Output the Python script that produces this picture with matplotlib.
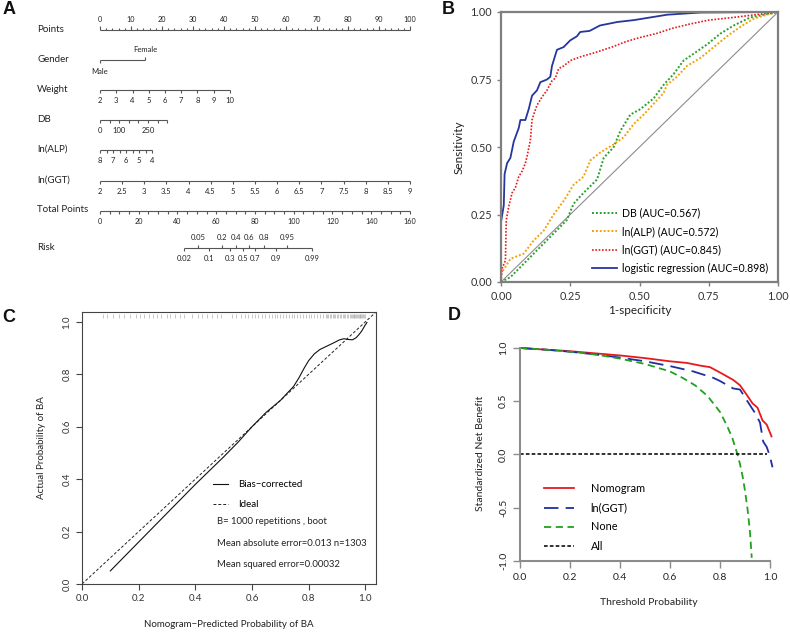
import numpy as np
import matplotlib
matplotlib.use('Agg')
import matplotlib.pyplot as plt

plt.rcParams['font.family'] = ['Lato', 'DejaVu Sans']

# ---------------- data ----------------
# Panel A nomogram scales (value -> points)
points_major = [0, 10, 20, 30, 40, 50, 60, 70, 80, 90, 100]
gender_levels = ['Male', 'Female']
gender_points = [0, 14.5]
weight_values = [2, 3, 4, 5, 6, 7, 8, 9, 10]
weight_points = [0, 5.2, 10.5, 15.7, 21.0, 26.2, 31.4, 36.7, 41.9]
db_values = [0, 50, 100, 150, 200, 250, 300, 350]
db_points = [0, 3.1, 6.2, 9.3, 12.4, 15.5, 18.6, 21.7]
db_labels = ['0', '', '100', '', '', '250', '', '']
alp_values = [8, 7.5, 7, 6.5, 6, 5.5, 5, 4.5, 4]
alp_points = [0, 2.1, 4.2, 6.3, 8.4, 10.5, 12.6, 14.7, 16.8]
alp_labels = ['8', '', '7', '', '6', '', '5', '', '4']
ggt_values = [2, 2.5, 3, 3.5, 4, 4.5, 5, 5.5, 6, 6.5, 7, 7.5, 8, 8.5, 9]
ggt_points = [0, 7.14, 14.29, 21.43, 28.57, 35.71, 42.86, 50.0, 57.14, 64.29, 71.43, 78.57, 85.71, 92.86, 100]
total_major = [0, 20, 40, 60, 80, 100, 120, 140, 160]
risk_top = [0.05, 0.2, 0.4, 0.6, 0.8, 0.95]
risk_bottom = [0.02, 0.1, 0.3, 0.5, 0.7, 0.9, 0.99]
risk_tp_at_half = 73.6      # total points where risk = 0.5
risk_tp_per_logit = 7.79    # total points per logit unit

# Panel B ROC curves
lr_fpr = [0, 0, 0.010, 0.013, 0.022, 0.034, 0.046, 0.064, 0.070, 0.088, 0.100, 0.112, 0.130, 0.142, 0.166,
          0.178, 0.184, 0.196, 0.202, 0.226, 0.250, 0.274, 0.286, 0.320, 0.357, 0.420, 0.480, 0.540, 0.600, 0.720, 1.0]
lr_tpr = [0, 0.222, 0.284, 0.40, 0.44, 0.46, 0.52, 0.57, 0.60, 0.60, 0.64, 0.69, 0.71, 0.74, 0.75,
          0.76, 0.80, 0.84, 0.86, 0.87, 0.895, 0.91, 0.926, 0.93, 0.95, 0.963, 0.97, 0.98, 0.99, 0.998, 1.0]
ggt_fpr = [0, 0.004, 0.016, 0.019, 0.028, 0.040, 0.052, 0.064, 0.076, 0.088, 0.094, 0.106, 0.112, 0.118, 0.130,
           0.148, 0.166, 0.184, 0.196, 0.208, 0.226, 0.250, 0.290, 0.340, 0.400, 0.450, 0.500, 0.560, 0.620,
           0.680, 0.750, 0.840, 0.920, 1.0]
ggt_tpr = [0, 0.05, 0.08, 0.23, 0.28, 0.33, 0.35, 0.39, 0.41, 0.44, 0.465, 0.525, 0.60, 0.62, 0.655,
           0.685, 0.71, 0.745, 0.755, 0.79, 0.80, 0.82, 0.835, 0.85, 0.87, 0.89, 0.905, 0.92, 0.94,
           0.955, 0.97, 0.98, 0.99, 1.0]
alp_fpr = [0, 0.0, 0.034, 0.082, 0.118, 0.154, 0.190, 0.226, 0.262, 0.298, 0.322, 0.359, 0.407, 0.443,
           0.479, 0.515, 0.551, 0.587, 0.599, 0.635, 0.671, 0.720, 0.768, 0.816, 0.864, 0.912, 0.960, 1.0]
alp_tpr = [0, 0.03, 0.086, 0.105, 0.154, 0.19, 0.25, 0.30, 0.36, 0.39, 0.45, 0.48, 0.51, 0.536,
           0.585, 0.62, 0.66, 0.70, 0.73, 0.76, 0.80, 0.83, 0.87, 0.91, 0.945, 0.975, 0.99, 1.0]
db_fpr = [0, 0.034, 0.094, 0.142, 0.190, 0.238, 0.262, 0.298, 0.347, 0.371, 0.407, 0.431, 0.467, 0.503,
          0.551, 0.587, 0.623, 0.659, 0.696, 0.744, 0.792, 0.840, 0.900, 1.0]
db_tpr = [0, 0.018, 0.08, 0.13, 0.18, 0.23, 0.29, 0.33, 0.38, 0.46, 0.50, 0.56, 0.62, 0.64,
          0.68, 0.73, 0.77, 0.82, 0.846, 0.88, 0.92, 0.95, 0.98, 1.0]
roc_labels = ['DB (AUC=0.567)', 'ln(ALP) (AUC=0.572)', 'ln(GGT) (AUC=0.845)', 'logistic regression (AUC=0.898)']

# Panel C calibration
cal_x = [0.10, 0.20, 0.30, 0.40, 0.50, 0.55, 0.60, 0.65, 0.70, 0.747, 0.765, 0.785, 0.80, 0.82, 0.84, 0.865,
         0.888, 0.91, 0.925, 0.94, 0.955, 0.968, 0.978, 0.988, 0.998, 1.006]
cal_y = [0.05, 0.16, 0.27, 0.38, 0.485, 0.54, 0.60, 0.655, 0.70, 0.754, 0.785, 0.825, 0.852, 0.878, 0.895,
         0.908, 0.92, 0.932, 0.936, 0.933, 0.932, 0.94, 0.952, 0.966, 0.985, 0.998]
rug_x = [0.074, 0.09, 0.11, 0.13, 0.15, 0.17, 0.19, 0.205, 0.22, 0.235, 0.25, 0.265, 0.28, 0.30, 0.31, 0.33,
         0.345, 0.36, 0.39, 0.41, 0.425, 0.44, 0.46, 0.475, 0.49, 0.53, 0.545, 0.56, 0.575, 0.585, 0.60, 0.61,
         0.62, 0.635, 0.645, 0.66, 0.67, 0.68, 0.69, 0.70, 0.71, 0.72, 0.73, 0.74, 0.75, 0.76, 0.77, 0.78,
         0.79, 0.80, 0.81, 0.82, 0.83, 0.84, 0.85, 0.86, 0.865, 0.87, 0.875, 0.88, 0.885, 0.89, 0.895, 0.90,
         0.905, 0.91, 0.915, 0.92, 0.925, 0.93, 0.935, 0.94, 0.945, 0.95, 0.953, 0.956, 0.959, 0.962, 0.965,
         0.968, 0.971, 0.974, 0.977, 0.98, 0.983, 0.986, 0.989, 0.992, 0.995, 0.998]
cal_texts = ['B= 1000 repetitions , boot', 'Mean absolute error=0.013 n=1303', 'Mean squared error=0.00032']

# Panel D decision curves
nomo_x = [0.0, 0.1, 0.2, 0.3, 0.4, 0.5, 0.6, 0.667, 0.72, 0.76, 0.80, 0.853, 0.88, 0.907, 0.93, 0.95,
          0.96, 0.97, 0.987, 1.006]
nomo_y = [1.0, 0.985, 0.97, 0.95, 0.93, 0.905, 0.875, 0.86, 0.835, 0.82, 0.77, 0.70, 0.65, 0.56, 0.48, 0.44,
          0.38, 0.32, 0.28, 0.17]
lggt_x = [0.0, 0.1, 0.2, 0.3, 0.4, 0.5, 0.6, 0.693, 0.773, 0.8, 0.853, 0.88, 0.907, 0.94, 0.96, 0.973,
          0.987, 1.0, 1.01]
lggt_y = [1.0, 0.985, 0.965, 0.94, 0.91, 0.875, 0.83, 0.78, 0.72, 0.69, 0.62, 0.61, 0.51, 0.39, 0.30, 0.12,
          0.07, -0.02, -0.12]
none_x = [0.0, 0.1, 0.2, 0.3, 0.4, 0.5, 0.6, 0.65, 0.7, 0.75, 0.8, 0.83, 0.85, 0.87, 0.88, 0.89, 0.90,
          0.91, 0.92, 0.927]
none_y = [1.0, 0.985, 0.965, 0.94, 0.90, 0.85, 0.78, 0.72, 0.65, 0.55, 0.40, 0.26, 0.15, 0.0, -0.09, -0.20,
          -0.34, -0.51, -0.73, -0.97]
all_x = [0.0, 0.987]
all_y = [0.0, 0.0]
dca_labels = ['Nomogram', 'ln(GGT)', 'None', 'All']

# ---------------- figure ----------------
W, H = 790, 634
fig = plt.figure(figsize=(W / 100, H / 100), dpi=100)


def add_ax(l, t, r, b):
    return fig.add_axes([l / W, 1 - b / H, (r - l) / W, (b - t) / H])


# ---------- Panel A ----------
PPX = 3.1  # pixels per point
axA = add_ax(0, 0, 420, 300)
axA.set_xlim(-100 / PPX, 320 / PPX)
axA.set_ylim(300, 0)
axA.axis('off')
LC = '#555555'
TC = '#222222'
LAB_X = (37 - 100) / PPX


def scale(y, pos, labels, sides, fs=5.5, tick=3.0, lab_off=10.5, ticklens=None):
    axA.plot([min(pos), max(pos)], [y, y], color=LC, lw=0.8, solid_capstyle='butt')
    for i, (p, lab, s) in enumerate(zip(pos, labels, sides)):
        tl = tick if ticklens is None else ticklens[i]
        axA.plot([p, p], [y, y + s * tl], color=LC, lw=0.8, solid_capstyle='butt')
        if lab:
            axA.text(p, y + s * lab_off, lab, ha='center', va='center', fontsize=fs, color=TC)


def row_label(y, txt):
    axA.text(LAB_X, y - 1, txt, ha='left', va='center', fontsize=7, color=TC)


# Points
pts_minor = list(range(0, 101, 2))
pts_labels = [str(p) if p in points_major else '' for p in pts_minor]
pts_lens = [3.5 if p in points_major else 2.0 for p in pts_minor]
scale(30, pts_minor, pts_labels, [-1] * len(pts_minor), fs=5.2, ticklens=pts_lens)
row_label(30, 'Points')
# Gender
scale(60, gender_points, ['', ''], [1, -1])
axA.text(gender_points[0], 72, gender_levels[0], ha='center', va='center', fontsize=5.5, color=TC)
axA.text(gender_points[1], 50, gender_levels[1], ha='center', va='center', fontsize=5.5, color=TC)
row_label(60, 'Gender')
# Weight
scale(90, weight_points, [str(v) for v in weight_values], [1] * len(weight_values))
row_label(90, 'Weight')
# DB
scale(120, db_points, db_labels, [1] * len(db_points))
row_label(120, 'DB')
# ln(ALP)
scale(150, alp_points, alp_labels, [1] * len(alp_points))
row_label(150, 'ln(ALP)')
# ln(GGT)
scale(181, ggt_points, [('%g' % v) for v in ggt_values], [1] * len(ggt_values))
row_label(181, 'ln(GGT)')
# Total Points
tp_ticks = list(range(0, 161, 5))
tp_pos = [t * 100 / 160 for t in tp_ticks]
tp_labels = [str(t) if t in total_major else '' for t in tp_ticks]
scale(211, tp_pos, tp_labels, [1] * len(tp_ticks), fs=5.2)
row_label(211, 'Total Points')
# Risk


def risk_pos(p):
    tp = risk_tp_at_half + risk_tp_per_logit * np.log(p / (1 - p))
    return tp * 100 / 160


rp_top = [risk_pos(p) for p in risk_top]
rp_bot = [risk_pos(p) for p in risk_bottom]
scale(248, rp_top + rp_bot, [('%g' % p) for p in risk_top] + [('%g' % p) for p in risk_bottom],
      [-1] * len(rp_top) + [1] * len(rp_bot))
row_label(248, 'Risk')

# ---------- Panel B ----------
axB = add_ax(501, 12, 778, 282)
GC = '#7f7f7f'
axB.plot([0, 1], [0, 1], color='#8c8c8c', lw=0.8)
axB.plot(db_fpr, db_tpr, color='#2ca02c', lw=1.4, ls=(0, (1, 1)), label=roc_labels[0])
axB.plot(alp_fpr, alp_tpr, color='#f0a30a', lw=1.4, ls=(0, (1, 1)), label=roc_labels[1])
axB.plot(ggt_fpr, ggt_tpr, color='#e41a1c', lw=1.2, ls=(0, (1, 1)), label=roc_labels[2])
axB.plot(lr_fpr, lr_tpr, color='#26369c', lw=1.3, label=roc_labels[3])
axB.set_xlim(0, 1)
axB.set_ylim(0, 1)
ticks = [0, 0.25, 0.5, 0.75, 1.0]
axB.set_xticks(ticks)
axB.set_yticks(ticks)
axB.set_xticklabels(['%.2f' % t for t in ticks])
axB.set_yticklabels(['%.2f' % t for t in ticks])
for s in axB.spines.values():
    s.set_color(GC)
    s.set_linewidth(1.6)
axB.tick_params(colors=GC, length=3, width=1, labelsize=7.8, labelcolor='#333333')
axB.set_xlabel('1-specificity', fontsize=8.5, color='#222222', labelpad=2)
axB.set_ylabel('Sensitivity', fontsize=8.5, color='#222222', labelpad=4)
axB.legend(loc='lower right', bbox_to_anchor=(0.995, 0.0), frameon=False, fontsize=7.6,
           handlelength=2.4, handletextpad=0.5, labelspacing=0.72, borderaxespad=0.35)

# ---------- Panel C ----------
axC = add_ax(82, 312, 376, 584)
axC.set_xlim(0, 1.038)
axC.set_ylim(0, 1.038)
axC.vlines(rug_x, 1.016, 1.03, color='#a8a8a8', lw=0.45)
axC.plot([0, 1.05], [0, 1.05], color='#222222', lw=0.7, ls=(0, (3, 2)), label='Ideal')
axC.plot(cal_x, cal_y, color='#111111', lw=0.8, label='Bias\u2212corrected')
ct = [0, 0.2, 0.4, 0.6, 0.8, 1.0]
axC.set_xticks(ct)
axC.set_yticks(ct)
axC.set_xticklabels(['%.1f' % t for t in ct])
axC.set_yticklabels(['%.1f' % t for t in ct], rotation=90, va='center')
for s in axC.spines.values():
    s.set_color('#444444')
    s.set_linewidth(0.8)
axC.tick_params(colors='#444444', length=4, width=0.8, labelsize=7, labelcolor='#333333')
axC.set_xlabel('Nomogram\u2212Predicted Probability of BA', fontsize=7, color='#222222', labelpad=12)
axC.set_ylabel('Actual Probability of BA', fontsize=7, color='#222222', labelpad=12)
hC, lC = axC.get_legend_handles_labels()
axC.legend(hC[::-1], lC[::-1], loc='upper left', bbox_to_anchor=(0.445, 0.381), frameon=False,
           fontsize=7, handlelength=1.6, handletextpad=1.0, labelspacing=1.1, borderaxespad=0, borderpad=0)
for i, t in enumerate(cal_texts):
    axC.text(0.459, 0.228 - i * 0.079, t, transform=axC.transAxes, fontsize=6.8, color='#222222',
             ha='left', va='center')

# ---------- Panel D ----------
axD = add_ax(520, 344.8, 777.5, 561)
axD.set_xlim(0, 1.03)
axD.set_ylim(-1, 1.03)
axD.plot(nomo_x, nomo_y, color='#e8191c', lw=1.3, label=dca_labels[0])
axD.plot(lggt_x, lggt_y, color='#1f2fa0', lw=1.3, ls=(0, (8, 4)), label=dca_labels[1])
axD.plot(none_x, none_y, color='#22a022', lw=1.3, ls=(0, (4, 2.5)), label=dca_labels[2])
axD.plot(all_x, all_y, color='#111111', lw=1.2, ls=(0, (2.2, 1.3)), label=dca_labels[3])
axD.spines['top'].set_visible(False)
axD.spines['right'].set_visible(False)
axD.spines['left'].set_bounds(-1, 1)
axD.spines['bottom'].set_bounds(0, 1)
for s in ['left', 'bottom']:
    axD.spines[s].set_color('#8c8c8c')
    axD.spines[s].set_linewidth(1.5)
dx = [0, 0.2, 0.4, 0.6, 0.8, 1.0]
dy = [-1.0, -0.5, 0.0, 0.5, 1.0]
axD.set_xticks(dx)
axD.set_yticks(dy)
axD.set_xticklabels(['%.1f' % t for t in dx])
axD.set_yticklabels(['%.1f' % t for t in dy], rotation=90, va='center')
axD.tick_params(colors='#8c8c8c', length=5, width=1, labelsize=7.5, labelcolor='#222222')
axD.set_xlabel('Threshold Probability', fontsize=7.5, color='#222222', labelpad=12)
axD.set_ylabel('Standardized Net Benefit', fontsize=7.5, color='#222222', labelpad=10)
axD.legend(loc='upper left', bbox_to_anchor=(0.093, 0.36), frameon=False, fontsize=7.8,
           handlelength=2.8, handletextpad=1.5, labelspacing=0.75, borderaxespad=0, borderpad=0)

# ---------- panel letters ----------
for lab, (x, y) in zip(['A', 'B', 'C', 'D'], [(9, 10), (448, 9), (9, 317), (454, 316)]):
    fig.text(x / W, 1 - y / H, lab, fontsize=13, fontweight='bold', family='Liberation Sans',
             ha='center', va='center', color='#111111')

fig.savefig('out.png', dpi=100)
